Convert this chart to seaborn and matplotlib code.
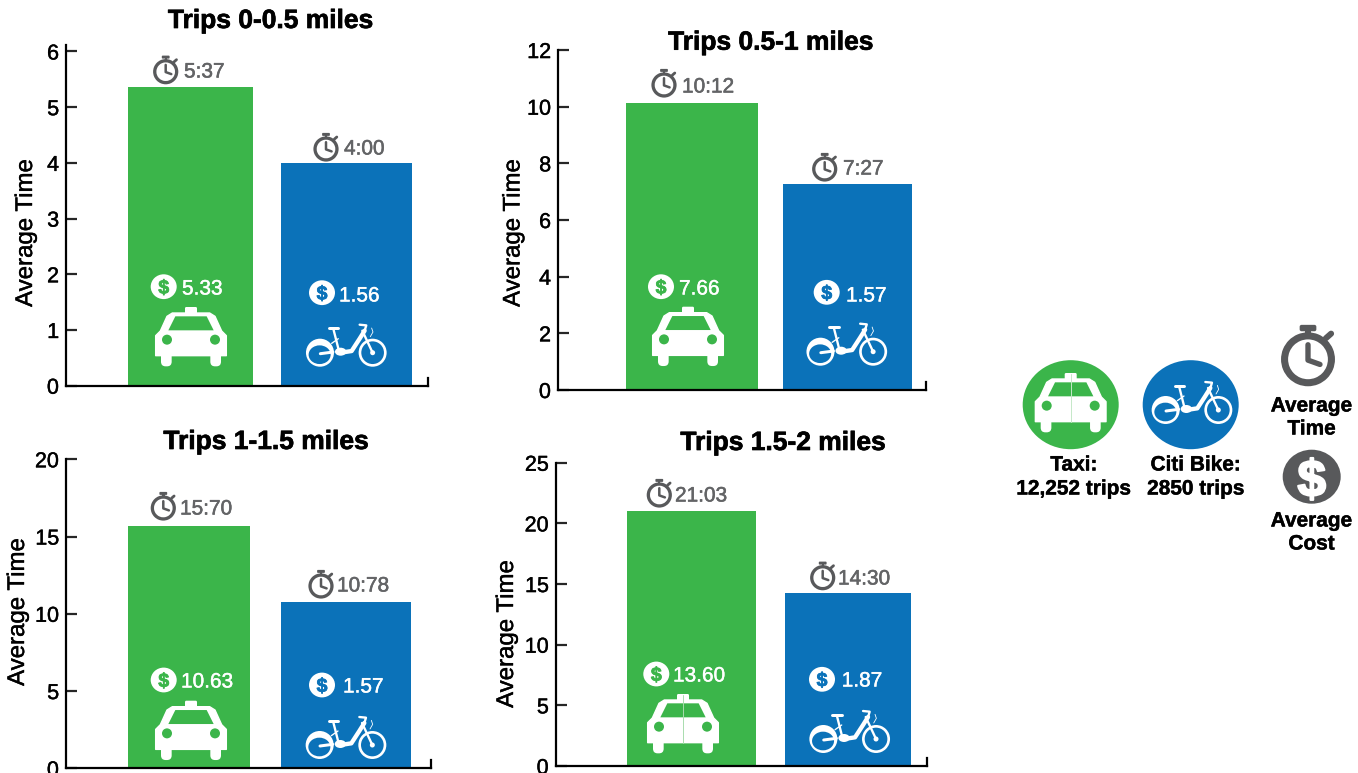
import matplotlib
matplotlib.use("Agg")
import matplotlib.pyplot as plt
import matplotlib.patheffects as pe
from matplotlib.patches import Circle, Ellipse, FancyBboxPatch, Polygon, Rectangle, Wedge
import pandas as pd
import seaborn as sns

# Trip data per distance band
modes = ["Taxi", "Citi Bike"]
titles = ["Trips 0-0.5 miles", "Trips 0.5-1 miles", "Trips 1-1.5 miles", "Trips 1.5-2 miles"]
avg_time = [[5.37, 4.00], [10.12, 7.27], [15.70, 10.78], [21.03, 14.30]]
avg_cost = [[5.33, 1.56], [7.66, 1.57], [10.63, 1.57], [13.60, 1.87]]
y_ticks = [[0, 1, 2, 3, 4, 5, 6], [0, 2, 4, 6, 8, 10, 12], [0, 5, 10, 15, 20], [0, 5, 10, 15, 20, 25]]
legend_trips = ["12,252 trips", "2850 trips"]

GREEN = "#3bb54a"
BLUE = "#0b72b9"
GREY = "#58595b"
TEXT_GREY = "#636466"
FONT = "Liberation Sans"
PX = 0.72  # points per pixel at 100 dpi
W, H = 1358, 773

# Panel frames in pixels: left, right, top of axis, baseline, pixels per y unit
frames = [
    (66, 428, 45, 385.7, 55.7),
    (558, 926, 50, 390, 28.33),
    (66, 431, 459.3, 768.3, 15.45),
    (555.7, 926.7, 462.7, 766, 12.13),
]
bar_spans = [[(127.6, 253), (280.6, 412)], [(625.6, 758), (782.6, 912)],
             [(127.6, 250), (280.6, 411)], [(626.6, 756), (784.6, 911)]]
title_pos = [(270.5, 21), (770.7, 42.7), (266, 442), (783, 443)]
ylabel_pos = [(26, 233), (513.5, 233), (18, 612), (507, 634)]
watch_pos = [[(165.7, 71.7), (326, 149)], [(664, 85), (824.7, 169)],
             [(163.3, 508), (321, 586)], [(659.3, 495), (822.7, 577.7)]]
watch_text = [[(184, 72), (344, 149)], [(682, 87), (843, 169)],
              [(180, 509), (337, 586)], [(675, 496), (838, 579)]]
coin_pos = [[(163.7, 286.7), (322, 292.7)], [(661, 286.7), (826.7, 292.3)],
            [(163.7, 680), (322, 685)], [(656.3, 674), (822, 679.3)]]
coin_text = [[(182, 289), (339, 296)], [(679, 289), (846, 296)],
             [(181, 682), (343, 687)], [(673, 676), (841.7, 681)]]
taxi_pos = [(191, 307), (688, 306.7), (191, 700.7), (683, 694)]
bike_pos = [(346.3, 352.7), (846.8, 351.7), (346, 745), (849.7, 739)]

sns.set_theme(style="white", rc={"font.family": FONT})
plt.rcParams["font.family"] = FONT
fig = plt.figure(figsize=(W / 100, H / 100), dpi=100)
overlay = fig.add_axes([0, 0, 1, 1], zorder=10)
overlay.set_xlim(0, W)
overlay.set_ylim(H, 0)
overlay.axis("off")


def draw_text(x, y, s, color="black", size=15, weight="normal", ha="left", stroke=0.0):
    effects = [pe.withStroke(linewidth=stroke, foreground=color)] if stroke else None
    overlay.text(x, y, s, color=color, fontsize=size, fontweight=weight, ha=ha, va="center",
                 path_effects=effects, family=FONT)


def stopwatch(cx, cy, s=1.0):
    ring_r, ring_w = 12.6 * s, 3.3 * s
    overlay.add_patch(Wedge((cx, cy), ring_r, 0, 360, width=ring_w, fc=GREY, ec="none"))
    overlay.add_patch(FancyBboxPatch((cx - 3 * s, cy - 15.2 * s), 6 * s, 1.2 * s,
                                     boxstyle=f"round,pad={0.9 * s}", fc=GREY, ec="none"))
    overlay.add_patch(Rectangle((cx - 1.2 * s, cy - 15 * s), 2.4 * s, 4 * s, fc=GREY, ec="none"))
    overlay.plot([cx + 8.3 * s, cx + 10.8 * s], [cy - 9.8 * s, cy - 12 * s], color=GREY,
                 lw=2.8 * s * PX, solid_capstyle="round")
    overlay.plot([cx, cx, cx + 5.6 * s], [cy - 6.8 * s, cy + 0.4 * s, cy + 2.4 * s], color=GREY,
                 lw=2.5 * s * PX, solid_capstyle="round", solid_joinstyle="round")


def coin(cx, cy, face, glyph, rx=13, ry=12.4, size=14):
    overlay.add_patch(Ellipse((cx, cy), 2 * rx, 2 * ry, fc=face, ec="none"))
    overlay.text(cx, cy + 0.4, "$", color=glyph, fontsize=size, fontweight="bold", ha="center",
                 va="center_baseline", family=FONT,
                 path_effects=[pe.withStroke(linewidth=size / 25, foreground=glyph)])


def taxi(cx, top, bg, seam=None):
    u = 1 / 3
    def pts(seq):
        return [(cx + a * u, top + b * u) for a, b in seq]
    overlay.add_patch(FancyBboxPatch((cx - 14 * u, top + 4 * u), 28 * u, 14 * u,
                                     boxstyle=f"round,pad={4 * u}", fc="white", ec="none"))
    overlay.add_patch(Polygon(pts([(-56, 18), (56, 18), (72, 28), (92, 72), (106, 86), (106, 146),
                                   (-106, 146), (-106, 86), (-92, 72), (-72, 28)]),
                              fc="white", ec="white", lw=1, joinstyle="round"))
    for sign in (-1, 1):
        overlay.add_patch(FancyBboxPatch((cx + (sign * 74 - 2) * u, top + 130 * u), 4 * u, 34 * u,
                                         boxstyle=f"round,pad={14 * u}", fc="white", ec="none"))
        overlay.add_patch(Circle((cx + sign * 72 * u, top + 98 * u), 15 * u, fc=bg, ec="none"))
    overlay.add_patch(Polygon(pts([(-47, 28), (47, 28), (68, 70), (-68, 70)]), fc=bg, ec="none"))
    if seam:
        overlay.plot([cx, cx], [top + 4 * u, top + 146 * u], color=seam, lw=0.7)


def bike(cx, wy, bg):
    u = 1 / 3
    def line(seq, width):
        overlay.plot([cx + a * u for a, _ in seq], [wy + b * u for _, b in seq], color="white",
                     lw=width * u * PX, solid_capstyle="round", solid_joinstyle="round")
    overlay.add_patch(Circle((cx - 79 * u, wy), 42 * u, fc="white", ec="none"))
    overlay.add_patch(Ellipse((cx - 80 * u, wy + 6 * u), 66 * u, 56 * u, fc=bg, ec="none"))
    line([(-78, 3), (-40, -2)], 9)
    overlay.add_patch(Wedge((cx + 79 * u, wy), 42 * u, 0, 360, width=8 * u, fc="white", ec="none"))
    overlay.add_patch(Circle((cx + 79 * u, wy), 7.5 * u, fc="white", ec="none"))
    line([(79, 0), (48, -66)], 7)
    overlay.add_patch(Ellipse((cx - 17 * u, wy - 3 * u), 34 * u, 24 * u, fc="white", ec="none"))
    line([(-17, 0), (16, -5), (40, -42), (55, -66)], 13)
    line([(-22, -5), (-38, -68)], 7)
    line([(-44, -28), (-24, -42)], 4)
    line([(-52, -73), (-24, -73)], 9)
    line([(55, -66), (60, -82), (40, -84)], 7)
    line([(76, -74), (80, -62), (72, -48)], 2.5)


# Four bar panels placed on the shared pixel grid
for i, (left, right, top, base, unit) in enumerate(frames):
    ax = fig.add_axes([left / W, 1 - base / H, (right - left) / W, (base - top) / H])
    table = pd.DataFrame({"mode": modes, "time": avg_time[i]})
    sns.barplot(data=table, x="mode", y="time", hue="mode", order=modes, hue_order=modes,
                palette=[GREEN, BLUE], saturation=1, legend=False, ax=ax)
    ax.set_xlim(0, right - left)
    ax.set_ylim(0, (base - top) / unit)
    for container, (x0, x1) in zip(ax.containers, bar_spans[i]):
        for bar in container:
            bar.set_x(x0 - left)
            bar.set_width(x1 - x0)
            bar.set_edgecolor("none")
    ax.set_xticks([])
    ax.set_xlabel("")
    ax.set_yticks(y_ticks[i])
    ax.tick_params(axis="y", direction="in", length=11 * PX, width=1.6, pad=5, labelsize=15.5,
                   left=True, labelcolor="black")
    for tick_label in ax.get_yticklabels():
        tick_label.set_path_effects([pe.withStroke(linewidth=0.3, foreground="black")])
    ax.set_facecolor("none")
    for side in ("left", "bottom", "right"):
        ax.spines[side].set_visible(True)
        ax.spines[side].set_color("black")
        ax.spines[side].set_linewidth(1.6)
    ax.spines["top"].set_visible(False)
    ax.spines["right"].set_bounds(0, 8 / unit)

    ax.set_ylabel("Average Time", fontsize=17.3, color="black", va="center",
                  path_effects=[pe.withStroke(linewidth=0.3, foreground="black")])
    lx, ly = ylabel_pos[i]
    ax.yaxis.set_label_coords((lx - left) / (right - left), (base - ly) / (base - top))
    tx0, ty0 = title_pos[i]
    ax.set_title(titles[i], fontsize=19, fontweight="bold", color="black", pad=0,
                 x=(tx0 - left) / (right - left), y=(base - ty0) / (base - top),
                 va="center", ha="center",
                 path_effects=[pe.withStroke(linewidth=0.5, foreground="black")])

    for j in range(2):
        bg = GREEN if j == 0 else BLUE
        stopwatch(*watch_pos[i][j])
        tx, ty = watch_text[i][j]
        draw_text(tx, ty, f"{avg_time[i][j]:.2f}".replace(".", ":"), color=TEXT_GREY, stroke=0.4)
        coin(*coin_pos[i][j], "white", bg)
        cx, cy = coin_text[i][j]
        draw_text(cx, cy, f"{avg_cost[i][j]:.2f}", color="white", stroke=0.3)
    taxi(*taxi_pos[i], GREEN, seam="#a9dcae" if i == 3 else None)
    bike(*bike_pos[i], BLUE)

# Key on the right
overlay.add_patch(Ellipse((1070.7, 404.7), 96, 89, fc=GREEN, ec="none"))
overlay.add_patch(Ellipse((1190.7, 404.7), 96, 89, fc=BLUE, ec="none"))
taxi(1070.7, 373, GREEN, seam="#c5e8c8")
bike(1192, 410, BLUE)
stopwatch(1308, 359.3, s=2.14)
coin(1311.7, 476.7, GREY, "white", rx=29, ry=27, size=37)

key_size = 15
key_labels = [
    (1074, 465, modes[0] + ":"), (1074, 489, legend_trips[0]),
    (1196, 465, modes[1] + ":"), (1196, 489, legend_trips[1]),
    (1311.7, 406, "Average"), (1311.7, 429, "Time"),
    (1311.7, 521, "Average"), (1311.7, 544, "Cost"),
]
for kx, ky, label in key_labels:
    draw_text(kx, ky, label, weight="bold", size=key_size, ha="center", stroke=0.3)

fig.savefig("out.png", dpi=100, facecolor="white")
